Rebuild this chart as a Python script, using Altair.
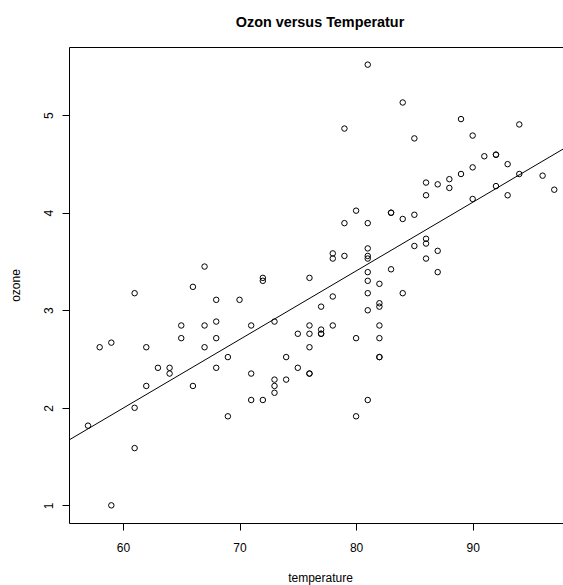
import altair as alt
import pandas as pd

temperature = [67, 72, 74, 62, 65, 59, 61, 69, 66, 68, 58, 64, 66, 57, 68, 62, 59, 73, 61, 61,
               67, 81, 79, 76, 82, 90, 87, 82, 77, 72, 65, 73, 76, 84, 85, 81, 83, 83, 88, 92,
               92, 89, 73, 81, 80, 81, 82, 84, 87, 85, 74, 86, 85, 82, 86, 88, 86, 83, 81, 81,
               81, 82, 89, 90, 90, 86, 82, 80, 77, 79, 76, 78, 78, 77, 72, 79, 81, 86, 97, 94,
               96, 94, 91, 92, 93, 93, 87, 84, 80, 78, 75, 73, 81, 76, 77, 71, 71, 78, 67, 76,
               68, 82, 64, 71, 81, 69, 63, 70, 75, 76, 68]

ozone = [3.448, 3.302, 2.289, 2.621, 2.844, 2.668, 2.000, 2.520, 2.224, 2.410, 2.621, 2.410,
         3.240, 1.817, 3.107, 2.224, 1.000, 2.224, 1.587, 3.175, 2.844, 3.557, 4.863, 3.332,
         3.072, 4.141, 3.391, 2.844, 2.759, 3.332, 2.714, 2.289, 2.351, 5.130, 3.659, 3.175,
         4.000, 3.420, 4.254, 4.595, 4.595, 4.397, 2.154, 3.000, 1.913, 3.634, 3.271, 3.936,
         4.291, 3.979, 2.520, 4.309, 4.762, 2.714, 3.733, 4.344, 3.684, 4.000, 3.893, 3.391,
         2.080, 2.520, 4.960, 4.465, 4.791, 3.530, 3.037, 4.021, 2.802, 3.893, 2.844, 3.141,
         3.530, 2.759, 2.080, 3.557, 5.518, 4.179, 4.236, 4.905, 4.380, 4.397, 4.579, 4.273,
         4.179, 4.498, 3.609, 3.175, 2.714, 2.844, 2.759, 2.884, 3.530, 2.759, 3.037, 2.080,
         2.351, 3.583, 2.621, 2.351, 2.884, 2.520, 2.351, 2.844, 3.302, 1.913, 2.410, 3.107,
         2.410, 2.621, 2.714]

x_ticks = [60, 70, 80, 90]
y_ticks = [1, 2, 3, 4, 5]
x_domain = [55.37, 97.75]
y_domain = [0.819, 5.699]

df = pd.DataFrame({"temperature": temperature, "ozone": ozone})
FONT = "Liberation Sans"

xscale = alt.Scale(domain=x_domain, nice=False, zero=False)
yscale = alt.Scale(domain=y_domain, nice=False, zero=False)

common = dict(grid=False, domainColor="black", domainWidth=1, tickColor="black",
              tickWidth=1, labelColor="black", titleColor="black", labelFont=FONT,
              titleFont=FONT, labelFontSize=12, titleFontSize=12,
              titleFontWeight="normal", labelFontWeight="normal", format="d")

points = alt.Chart(df).mark_point(
    shape="circle", filled=False, color="black", size=30, strokeWidth=1, opacity=1
).encode(
    x=alt.X("temperature:Q", scale=xscale,
            axis=alt.Axis(orient="bottom", values=x_ticks, title="temperature",
                          tickSize=7, labelPadding=12, labelBaseline="top",
                          titleX=251, titleY=58.8, titleAlign="center",
                          titleBaseline="alphabetic", **common)),
    y=alt.Y("ozone:Q", scale=yscale,
            axis=alt.Axis(orient="left", values=y_ticks, title="ozone",
                          tickSize=7, labelPadding=10, labelAngle=270,
                          labelAlign="center", labelBaseline="alphabetic",
                          titleAngle=270, titleX=-49.7, titleY=238,
                          titleAlign="center", titleBaseline="alphabetic", **common)),
)

line = alt.Chart(df).transform_regression(
    "temperature", "ozone", extent=x_domain
).mark_line(color="black", strokeWidth=1, clip=True).encode(
    x=alt.X("temperature:Q", scale=xscale,
            axis=alt.Axis(orient="top", labels=False, ticks=False, title=None,
                          domain=True, grid=False, domainColor="black", domainWidth=1)),
    y=alt.Y("ozone:Q", scale=yscale),
)

chart = alt.layer(points, line).resolve_axis(x="independent").properties(
    width=494,
    height=476,
    title=alt.TitleParams(
        text="Ozon versus Temperatur", font=FONT, fontSize=14.4, fontWeight="bold",
        color="black", anchor="middle", frame="group", baseline="alphabetic",
        offset=6, dx=4,
    ),
    autosize=alt.AutoSizeParams(type="none"),
    padding={"left": 69, "top": 47, "right": 0, "bottom": 62},
).configure_view(stroke=None).configure(background="white")

chart.save("out.html", embed_options={"renderer": "svg", "actions": False})
